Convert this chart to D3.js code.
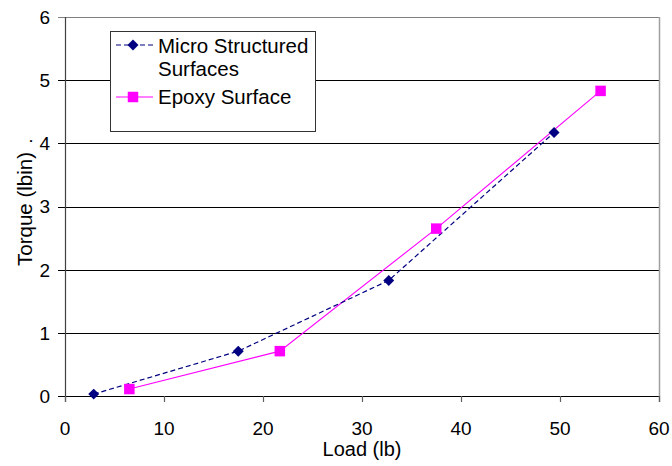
<!DOCTYPE html>
<html>
<head>
<meta charset="utf-8">
<script src="https://cdnjs.cloudflare.com/ajax/libs/d3/7.8.5/d3.min.js"></script>
<style>
  html, body { margin: 0; padding: 0; background: #fff; }
  svg text { font-family: "Liberation Sans", Arial, sans-serif; fill: #000; }
</style>
</head>
<body>
<div id="chart"></div>
<script>
// data
var microLoad = [2.9, 17.5, 32.7, 49.4];
var microTorque = [0.03, 0.71, 1.83, 4.17];
var epoxyLoad = [6.5, 21.7, 37.5, 54.1];
var epoxyTorque = [0.11, 0.71, 2.65, 4.83];
var xTicks = [0, 10, 20, 30, 40, 50, 60];
var yTicks = [0, 1, 2, 3, 4, 5, 6];
var seriesNames = ["Micro Structured", "Surfaces", "Epoxy Surface"];

var width = 672, height = 466;

var svg = d3.select("#chart")
    .append("svg")
    .attr("width", width)
    .attr("height", height);

var x = d3.scaleLinear().domain([0, 60]).range([65, 659]);
var y = d3.scaleLinear().domain([0, 6]).range([396, 17]);

// grid lines (extend left as ticks)
svg.selectAll("line.grid")
    .data(yTicks)
    .enter()
    .append("line")
    .attr("class", "grid")
    .attr("x1", 58)
    .attr("x2", x(60))
    .attr("y1", function (d) { return Math.round(y(d)) + 0.5; })
    .attr("y2", function (d) { return Math.round(y(d)) + 0.5; })
    .style("stroke", function (d) { return d === 6 ? "#808080" : "#000"; })
    .style("stroke-width", 1);

// right border
svg.append("line")
    .attr("x1", Math.round(x(60)) + 0.5)
    .attr("x2", Math.round(x(60)) + 0.5)
    .attr("y1", y(6))
    .attr("y2", y(0) + 6)
    .style("stroke", "#a0a0a0")
    .style("stroke-width", 1.5);

// left axis line
svg.append("line")
    .attr("x1", 65.5)
    .attr("x2", 65.5)
    .attr("y1", y(6))
    .attr("y2", y(0) + 6)
    .style("stroke", "#404040")
    .style("stroke-width", 1.2);

// x ticks
svg.selectAll("line.xtick")
    .data(xTicks)
    .enter()
    .append("line")
    .attr("class", "xtick")
    .attr("x1", function (d) { return Math.round(x(d)) + 0.5; })
    .attr("x2", function (d) { return Math.round(x(d)) + 0.5; })
    .attr("y1", y(0))
    .attr("y2", y(0) + 6)
    .style("stroke", "#606060")
    .style("stroke-width", 1.2);

// tick labels
svg.selectAll("text.xlab")
    .data(xTicks)
    .enter()
    .append("text")
    .attr("class", "xlab")
    .attr("x", function (d) { return x(d); })
    .attr("y", 435)
    .attr("text-anchor", "middle")
    .style("font-size", "19px")
    .text(function (d) { return d; });

svg.selectAll("text.ylab")
    .data(yTicks)
    .enter()
    .append("text")
    .attr("class", "ylab")
    .attr("x", 50)
    .attr("y", function (d) { return y(d); })
    .attr("dy", "0.36em")
    .attr("text-anchor", "end")
    .style("font-size", "19px")
    .text(function (d) { return d; });

// axis titles
svg.append("text")
    .attr("x", x(30))
    .attr("y", 456)
    .attr("text-anchor", "middle")
    .style("font-size", "20px")
    .text("Load (lb)");

svg.append("text")
    .attr("transform", "translate(32,209) rotate(-90)")
    .attr("text-anchor", "middle")
    .style("font-size", "20.5px")
    .text("Torque (lbin)");

svg.append("text")
    .attr("transform", "translate(32,141) rotate(-90)")
    .attr("text-anchor", "middle")
    .style("font-size", "19px")
    .text(".");

// series
var microData = microLoad.map(function (d, i) { return [d, microTorque[i]]; });
var epoxyData = epoxyLoad.map(function (d, i) { return [d, epoxyTorque[i]]; });

var line = d3.line()
    .x(function (d) { return x(d[0]); })
    .y(function (d) { return y(d[1]); });

svg.append("path")
    .datum(epoxyData)
    .attr("d", line)
    .style("fill", "none")
    .style("stroke", "#ff00ff")
    .style("stroke-width", 1.1);

svg.append("path")
    .datum(microData)
    .attr("d", line)
    .style("fill", "none")
    .style("stroke", "#000080")
    .style("stroke-width", 1.2)
    .style("stroke-dasharray", "5,3");

var diamond = d3.symbol().type(d3.symbolSquare).size(60);
var square = d3.symbol().type(d3.symbolSquare).size(110);

svg.selectAll("path.micro")
    .data(microData)
    .enter()
    .append("path")
    .attr("class", "micro")
    .attr("d", diamond)
    .attr("transform", function (d) {
        return "translate(" + x(d[0]) + "," + y(d[1]) + ") rotate(45)";
    })
    .style("fill", "#000080");

svg.selectAll("path.epoxy")
    .data(epoxyData)
    .enter()
    .append("path")
    .attr("class", "epoxy")
    .attr("d", square)
    .attr("transform", function (d) {
        return "translate(" + x(d[0]) + "," + y(d[1]) + ")";
    })
    .style("fill", "#ff00ff");

// legend
var legend = svg.append("g");

legend.append("rect")
    .attr("x", 110.5)
    .attr("y", 31.5)
    .attr("width", 205)
    .attr("height", 100)
    .style("fill", "#fff")
    .style("stroke", "#333")
    .style("stroke-width", 1);

legend.append("line")
    .attr("x1", 116).attr("x2", 153)
    .attr("y1", 45).attr("y2", 45)
    .style("stroke", "#000080")
    .style("stroke-width", 1.2)
    .style("stroke-dasharray", "5,3");

legend.append("path")
    .attr("d", diamond)
    .attr("transform", "translate(133,45) rotate(45)")
    .style("fill", "#000080");

legend.append("line")
    .attr("x1", 116).attr("x2", 153)
    .attr("y1", 97).attr("y2", 97)
    .style("stroke", "#ff00ff")
    .style("stroke-width", 1.1);

legend.append("path")
    .attr("d", square)
    .attr("transform", "translate(133,97)")
    .style("fill", "#ff00ff");

legend.selectAll("text")
    .data(seriesNames)
    .enter()
    .append("text")
    .attr("x", 158)
    .attr("y", function (d, i) { return [53, 76, 104][i]; })
    .style("font-size", "20.5px")
    .text(function (d) { return d; });
</script>
</body>
</html>
